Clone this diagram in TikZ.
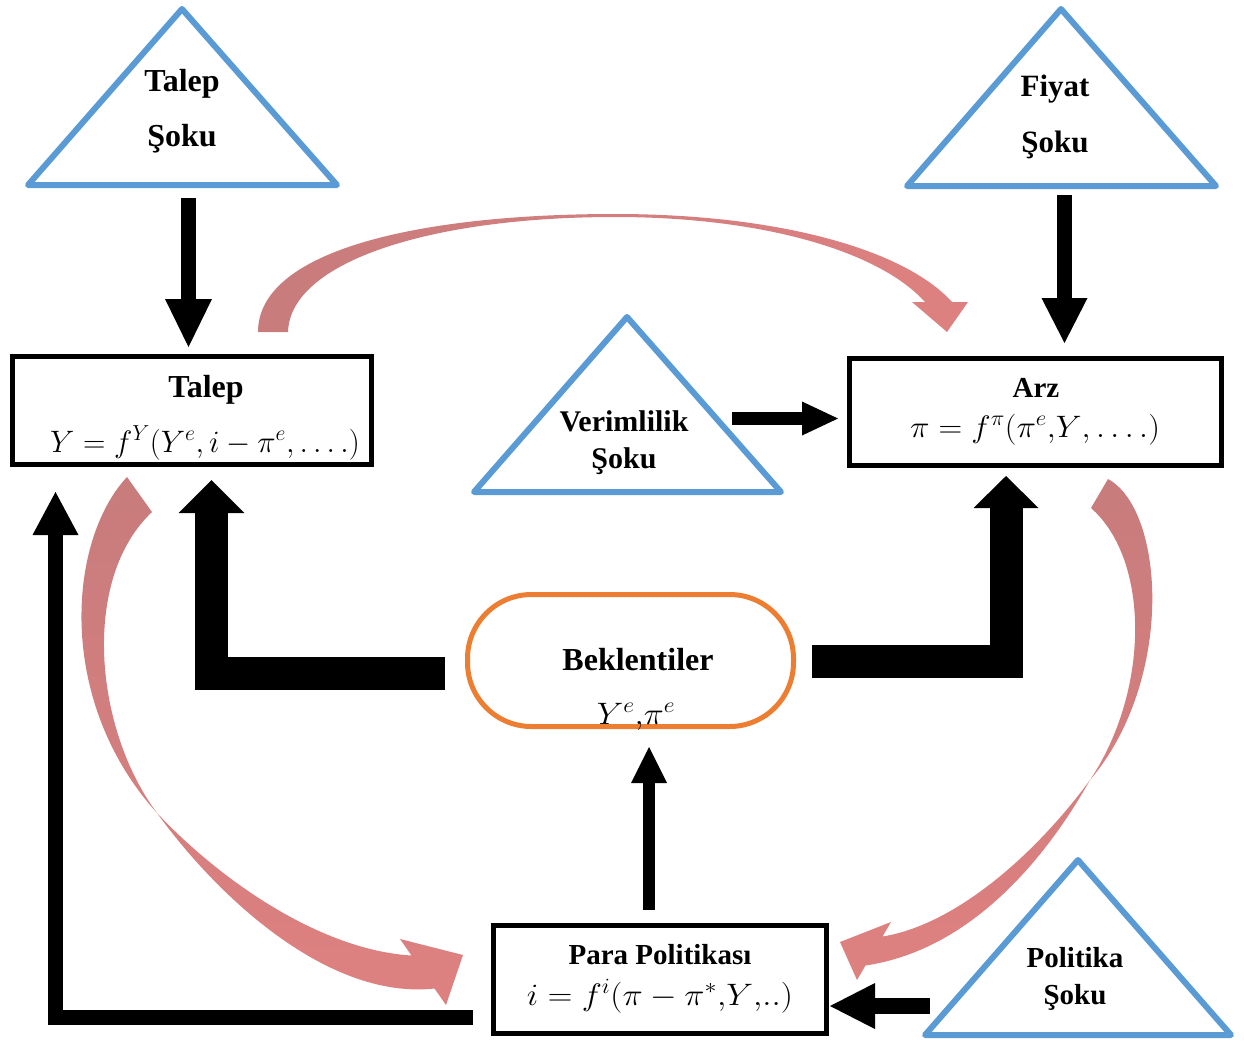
\RequirePackage{fix-cm}
\documentclass[tikz,border=0pt]{standalone}
\usepackage{fontspec}
\setmainfont{Liberation Serif}
\usetikzlibrary{arrows.meta}
\definecolor{shockblue}{RGB}{91,155,213}
\definecolor{expor}{RGB}{237,125,49}
\definecolor{pinkD}{RGB}{200,124,124}
\definecolor{pinkL}{RGB}{222,128,128}
\newcommand{\fsz}[1]{\fontsize{#1}{#1}\selectfont}
\begin{document}
\begin{tikzpicture}[x=1pt,y=-1pt,
  shock/.style={draw=shockblue,line width=6pt,line join=round},
  lbl/.style={inner sep=0pt,anchor=base,font=\fsz{29}\bfseries},
  frm/.style={inner sep=0pt,anchor=base,font=\fsz{31}},
  box/.style={draw=black,line width=5pt,rectangle,inner sep=0pt},
  thinarr/.style={line width=#1,line join=miter},
  fatarr/.style={line width=33pt,line join=miter}
]
\useasboundingbox (0,0) rectangle (1244,1042);

% ---------- shock triangles ----------
\draw[shock] (182,9) -- (337,185) -- (28,185) -- cycle;
\draw[shock] (1061,9) -- (1216,186) -- (907,186) -- cycle;
\draw[shock] (627,317) -- (781,492) -- (474,492) -- cycle;
\draw[shock] (1078,860) -- (1231,1035) -- (925,1035) -- cycle;

\node[lbl,font=\fsz{32}\bfseries] (ts1) at (182,91) {Talep};
\node[lbl,font=\fsz{32}\bfseries] (ts2) at (182,146) {Şoku};
\node[lbl,font=\fsz{31}\bfseries] (fs1) at (1055,96) {Fiyat};
\node[lbl,font=\fsz{31}\bfseries] (fs2) at (1055,152) {Şoku};
\node[lbl,font=\fsz{30}\bfseries] (vs1) at (624,431) {Verimlilik};
\node[lbl,font=\fsz{30}\bfseries] (vs2) at (624,468) {Şoku};
\node[lbl] (ps1) at (1075,967) {Politika};
\node[lbl] (ps2) at (1075,1004) {Şoku};

% ---------- boxes ----------
\node[box,minimum width=359pt,minimum height=108pt] (talep) at (192,410.5) {};
\node[box,minimum width=372pt,minimum height=107pt] (arz) at (1035.5,412) {};
\node[box,minimum width=333pt,minimum height=108pt] (para) at (660,979.5) {};
\node[draw=expor,line width=5pt,rectangle,rounded corners=64pt,minimum width=326pt,minimum height=132pt] (bek) at (630.5,660.5) {};

\node[lbl,font=\fsz{32}\bfseries] (talepT) at (206,397) {Talep};
\node[frm] (talepF) at (205,452) {$Y = f^{Y}(Y^{e}, i - \pi^{e}, \ldots.)$};
\node[lbl] (arzT) at (1036,397) {Arz};
\node[frm] (arzF) at (1035,437) {\scalebox{1.06}[1]{$\pi = f^{\pi}(\pi^{e}{,}Y{,}\ldots.)$}};
\node[lbl] (paraT) at (660,964) {Para Politikası};
\node[frm] (paraF) at (660,1005) {\scalebox{1.1}[1]{$i = f^{i}(\pi - \pi^{*}{,}Y{,}..)$}};
\node[lbl,font=\fsz{32}\bfseries] (bekT) at (638,670) {Beklentiler};
\node[frm] (bekF) at (636,724) {\scalebox{1.09}[1]{$Y^{e}{,}\pi^{e}$}};

% ---------- straight black arrows ----------
\coordinate (a1s) at (188.5,198);  \coordinate (a1e) at (188.5,347);
\draw[thinarr=15pt,-{Triangle[width=47pt,length=48pt,line width=0pt]}] (a1s) -- (a1e);
\coordinate (a2s) at (1064.5,195); \coordinate (a2e) at (1064.5,343);
\draw[thinarr=15pt,-{Triangle[width=46pt,length=45pt,line width=0pt]}] (a2s) -- (a2e);
\coordinate (a3s) at (732,418.5);  \coordinate (a3e) at (838,418.5);
\draw[thinarr=13pt,-{Triangle[width=34pt,length=36pt,line width=0pt]}] (a3s) -- (a3e);
\coordinate (a4s) at (649,910);    \coordinate (a4e) at (649,747);
\draw[thinarr=12pt,-{Triangle[width=36pt,length=36pt,line width=0pt]}] (a4s) -- (a4e);
\coordinate (a5s) at (930,1006);   \coordinate (a5e) at (830,1006);
\draw[thinarr=16pt,-{Triangle[width=46pt,length=45pt,line width=0pt]}] (a5s) -- (a5e);
\coordinate (a6s) at (473,1017);   \coordinate (a6c) at (55.5,1017); \coordinate (a6e) at (55.5,492);
\draw[thinarr=15pt,-{Triangle[width=46pt,length=43pt,line width=0pt]}] (a6s) -- (a6c) -- (a6e);

% ---------- fat L arrows from Beklentiler ----------
\coordinate (b1s) at (445,673); \coordinate (b1c) at (211.5,673); \coordinate (b1e) at (211.5,480);
\draw[fatarr,-{Triangle[width=66pt,length=33pt,line width=0pt]}] (b1s) -- (b1c) -- (b1e);
\coordinate (b2s) at (812,661.5); \coordinate (b2c) at (1006,661.5); \coordinate (b2e) at (1006,476);
\draw[fatarr,-{Triangle[width=65pt,length=32pt,line width=0pt]}] (b2s) -- (b2c) -- (b2e);

% ---------- pink curved arrows ----------
% Talep -> Arz (top)
\shade[left color=pinkD,right color=pinkL]
  (258,332) .. controls (258,250) and (420,214) .. (615,214)
  .. controls (780,214) and (905,250) .. (952,302)
  -- (968,302) -- (947,332) -- (912,302) -- (925,302)
  .. controls (880,252) and (765,217) .. (615,217)
  .. controls (430,217) and (290,262) .. (288,332) -- cycle;
% Talep -> Para (left)
\shade[top color=pinkD,bottom color=pinkL]
  (127,477) .. controls (68,540) and (55,700) .. (157,813)
  .. controls (220,900) and (330,1000) .. (434.5,988.5)
  -- (446,1005) -- (463,955) -- (400,939) -- (411.5,955.5)
  .. controls (320,950) and (220,880) .. (157,813)
  .. controls (95,730) and (80,580) .. (152,512) -- cycle;
% Arz -> Para (right)
\shade[top color=pinkD,bottom color=pinkL]
  (1108,479) .. controls (1165,510) and (1175,680) .. (1090,780)
  .. controls (1045,860) and (970,950) .. (865.5,965.5)
  -- (857,980) -- (840,942) -- (891,922) -- (882.5,936.5)
  .. controls (955,925) and (1035,855) .. (1090,780)
  .. controls (1150,690) and (1150,560) .. (1091,508) -- cycle;
\end{tikzpicture}
\end{document}
